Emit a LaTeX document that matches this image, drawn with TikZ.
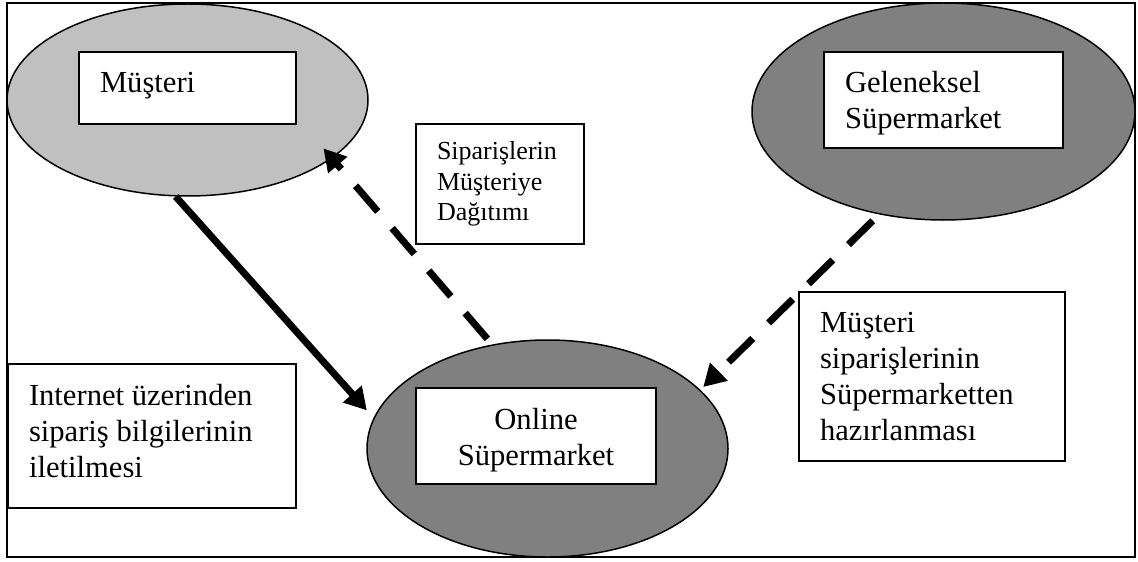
\documentclass[tikz,border=0pt]{standalone}
\usepackage{fontspec}
\setmainfont{Liberation Serif}
\usetikzlibrary{shapes.geometric,arrows.meta}
\definecolor{ovallight}{HTML}{C0C0C0}
\definecolor{ovaldark}{HTML}{808080}
\tikzset{>={Triangle[length=11pt,width=12pt]}}

\begin{document}
\begin{tikzpicture}[x=0.5pt, y=-0.5pt,
	oval/.style={ellipse, draw, line width=0.75pt, inner sep=0pt},
	textbox/.style={draw, fill=white, line width=0.75pt, outer sep=0pt,
		inner xsep=10.5pt, inner ysep=0pt, anchor=north west, align=flush left,
		font=\fontsize{15.3}{18}\selectfont},
	flow/.style={line width=3.5pt, ->},
	dashflow/.style={flow, dash pattern=on 17pt off 11pt}]

		\useasboundingbox (0,0) rectangle (1138,561);
		\draw[line width=1pt] (7,3) rectangle (1135,557);

		% Ovals
		\node [oval, fill=ovallight, minimum width=180.5pt, minimum height=96pt] (musteri) at (187.5,100) {};
		\node [oval, fill=ovaldark, minimum width=191.5pt, minimum height=108.5pt] (geleneksel) at (943.5,111.5) {};
		\node [oval, fill=ovaldark, minimum width=180.5pt, minimum height=108.5pt] (online) at (547.5,448.5) {};

		% Boxes in the ovals
		\node [textbox, text width=87.5pt, text height=20.5pt, text depth=15.5pt] (musteribox) at (79,52) {Müşteri};
		\node [textbox, text width=98.5pt, text height=20.5pt, text depth=27.5pt] (gelenekselbox) at (824,52) {Geleneksel\\Süpermarket};
		\node [textbox, align=center, text width=99pt, text height=20.5pt, text depth=27.5pt] (onlinebox) at (416,388) {Online\\Süpermarket};

		% Notes
		\node [textbox, font=\fontsize{13}{15.25}\selectfont, text width=63pt, text height=18pt, text depth=42pt] (dagitim) at (416,124) {Siparişlerin\\Müşteriye\\Dağıtımı};
		\node [textbox, text width=112pt, text height=20pt, text depth=64.5pt] (hazirlama) at (799,292) {Müşteri\\siparişlerinin\\Süpermarketten\\hazırlanması};
		\node [textbox, text width=123pt, text height=20.5pt, text depth=51.5pt] (iletim) at (8,364) {Internet üzerinden\\sipariş bilgilerinin\\iletilmesi};

		% Flows
		\draw [flow, shorten >=5pt] (musteri.-97.4) -- (online.170.5);
		\draw [dashflow, shorten <=3.7pt, shorten >=-6.6pt] (online.118.4) -- (musteri.-22.5);
		\draw [dashflow, shorten <=4.5pt, shorten >=2pt] (geleneksel.-122.5) -- (online.21);

	\end{tikzpicture}
\end{document}
